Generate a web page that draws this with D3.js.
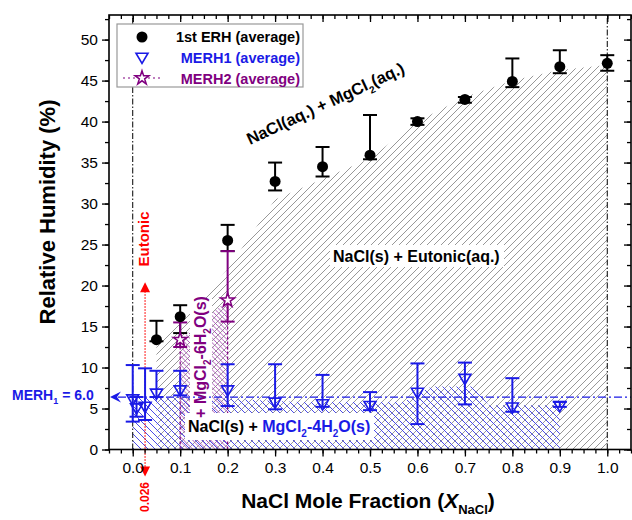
<!DOCTYPE html>
<html>
<head>
<meta charset="utf-8">
<script src="https://cdn.jsdelivr.net/npm/d3@7"></script>
<style>
  body { margin: 0; background: #fff; }
  svg { display: block; font-family: "Liberation Sans", Arial, sans-serif; }
</style>
</head>
<body>
<svg id="chart" width="632" height="520"></svg>
<script>
// 1st ERH (average), black circles
const erhX  = [0.05, 0.1, 0.2, 0.3, 0.4, 0.5, 0.6, 0.7, 0.8, 0.9, 1.0];
const erh   = [13.4, 16.2, 25.5, 32.7, 34.5, 35.9, 40.0, 42.7, 44.9, 46.7, 47.1];
const erhHi = [15.7, 17.6, 27.4, 35.0, 36.9, 40.8, 40.4, 43.0, 47.7, 48.7, 48.1];
const erhLo = [13.2, 14.2, 24.2, 31.6, 33.3, 35.4, 39.6, 42.3, 44.2, 45.9, 46.2];

// MERH1 (average), blue triangles
const merh1X  = [0, 0.008, 0.026, 0.05, 0.1, 0.2, 0.3, 0.4, 0.5, 0.6, 0.7, 0.8, 0.9];
const merh1   = [6.2, 5.1, 5.3, 6.9, 7.3, 7.3, 5.8, 5.6, 5.4, 7.0, 8.7, 5.2, 5.4];
const merh1Hi = [10.3, 6.4, 9.9, 9.6, 9.6, 10.4, 10.4, 9.1, 7.0, 10.5, 10.6, 8.7, 5.8];
const merh1Lo = [3.4, 4.0, 3.6, 6.4, 6.6, 5.3, 4.9, 5.2, 4.8, 3.1, 5.5, 4.6, 5.2];

// MERH2 (average), purple stars
const merh2X  = [0.1, 0.2];
const merh2   = [13.4, 18.2];
const merh2Hi = [15.5, 24.2];
const merh2Lo = [12.5, 15.6];

// shaded phase regions (upper edges)
const grayX   = [0.05, 0.1, 0.2, 0.3, 0.4, 0.5, 0.6, 0.7, 0.8, 0.9, 1.0];
const grayTop = [12.5, 15.5, 22.0, 30.5, 33.0, 35.5, 40.0, 43.0, 45.0, 46.3, 46.9];
const blueX   = [0, 0.2, 0.35, 0.57, 0.63, 0.72, 0.75, 0.9];
const blueTop = [6.4, 6.2, 5.8, 5.8, 7.7, 7.7, 5.4, 5.4];

const merh1Line = 6.4;     // drawn level of "MERH1 = 6.0"
const eutonicX = 0.026;
const eutonicTop = 20.4;

const xMajor = d3.range(0, 11).map(d => d / 10);
const xMinor = d3.range(-2, 43).map(d => d * 0.025);
const yMajor = d3.range(0, 51, 5);
const yMinor = d3.range(0, 53, 2.5);

const svg = d3.select("#chart");
const x = d3.scaleLinear().domain([-0.05, 1.05]).range([109, 631]);
const y = d3.scaleLinear().domain([0, 53]).range([449.5, 15]);

const blue = "#1a1ae6", purple = "#800080", red = "#ff0000";

// hatch patterns
const defs = svg.append("defs");
function hatch(id, color, s, up, w) {
  let d = up
    ? `M0,${s} L${s},0 M${-s/2},${s/2} L${s/2},${-s/2} M${s/2},${s*1.5} L${s*1.5},${s/2}`
    : `M0,0 L${s},${s} M${-s/2},${s/2} L${s/2},${s*1.5} M${s/2},${-s/2} L${s*1.5},${s/2}`;
  defs.append("pattern")
    .attr("id", id)
    .attr("patternUnits", "userSpaceOnUse")
    .attr("width", s).attr("height", s)
    .append("path")
    .attr("d", d)
    .attr("stroke", color)
    .attr("stroke-width", w);
}
hatch("grayHatch", "#8c8c8c", 7, true, 0.9);
hatch("blueHatch", "#4b4be6", 7, false, 1);
hatch("purpleHatch", "#a64ab4", 4.5, false, 0.9);

function area(xs, tops) {
  return d3.area()
    .x(d => x(d[0]))
    .y0(y(0))
    .y1(d => y(d[1]))(d3.zip(xs, tops));
}

svg.append("path").attr("d", area(grayX, grayTop)).attr("fill", "url(#grayHatch)");
svg.append("path").attr("d", area(merh2X, merh2)).attr("fill", "url(#purpleHatch)");
svg.append("path").attr("d", area(blueX, blueTop)).attr("fill", "url(#blueHatch)");

// purple dotted edges of the MgCl2-6H2O region
merh2X.forEach((v, i) => {
  svg.append("line")
    .attr("x1", x(v)).attr("x2", x(v))
    .attr("y1", y(0)).attr("y2", y(merh2[i]))
    .attr("stroke", purple).attr("stroke-width", 1.2)
    .attr("stroke-dasharray", "3,2");
});

// white boxes behind labels
svg.append("rect").attr("x", 190).attr("y", 298).attr("width", 22).attr("height", 117).attr("fill", "#fff");
svg.append("rect").attr("x", 185).attr("y", 413).attr("width", 189).attr("height", 27).attr("fill", "#fff");
svg.append("rect").attr("x", 330).attr("y", 245).attr("width", 174).attr("height", 22).attr("fill", "#fff");

// black dash-dot limits at x=0 and x=1
[0, 1].forEach(v => {
  svg.append("line")
    .attr("x1", x(v)).attr("x2", x(v))
    .attr("y1", y(0)).attr("y2", y(53))
    .attr("stroke", "#000").attr("stroke-width", 1)
    .attr("stroke-dasharray", "6,2,1.5,2");
});

// MERH1 mean line with arrow
svg.append("line")
  .attr("x1", 118).attr("x2", 631)
  .attr("y1", y(merh1Line)).attr("y2", y(merh1Line))
  .attr("stroke", blue).attr("stroke-width", 1.2)
  .attr("stroke-dasharray", "8,3,2,3");
svg.append("path")
  .attr("d", `M110,${y(merh1Line)} L121,${y(merh1Line) - 5.5} L117,${y(merh1Line)} L121,${y(merh1Line) + 5.5} Z`)
  .attr("fill", blue);

// eutonic composition arrow
const ex = x(eutonicX);
svg.append("line")
  .attr("x1", ex).attr("x2", ex)
  .attr("y1", y(eutonicTop) + 9).attr("y2", y(0) + 18)
  .attr("stroke", red).attr("stroke-width", 1.2)
  .attr("stroke-dasharray", "1.5,1.5");
svg.append("path")
  .attr("d", `M${ex},${y(eutonicTop)} L${ex - 5},${y(eutonicTop) + 10} L${ex + 5},${y(eutonicTop) + 10} Z`)
  .attr("fill", red);
svg.append("path")
  .attr("d", `M${ex},${y(0) + 27} L${ex - 5},${y(0) + 17} L${ex + 5},${y(0) + 17} Z`)
  .attr("fill", red);

// error bars
function errorBars(xs, lo, hi, color) {
  const g = svg.append("g").attr("stroke", color).attr("stroke-width", 2);
  xs.forEach((v, i) => {
    const cx = x(v);
    g.append("line").attr("x1", cx).attr("x2", cx).attr("y1", y(lo[i])).attr("y2", y(hi[i]));
    g.append("line").attr("x1", cx - 7).attr("x2", cx + 7).attr("y1", y(lo[i])).attr("y2", y(lo[i]));
    g.append("line").attr("x1", cx - 7).attr("x2", cx + 7).attr("y1", y(hi[i])).attr("y2", y(hi[i]));
  });
}
errorBars(erhX, erhLo, erhHi, "#000");
errorBars(merh2X, merh2Lo, merh2Hi, purple);
errorBars(merh1X, merh1Lo, merh1Hi, blue);

// markers
const triDown = "M-6,-3.8 L6,-3.8 L0,6.5 Z";
const star = d3.symbol(d3.symbolStar, 60)();

svg.append("g").selectAll("circle")
  .data(d3.zip(erhX, erh)).join("circle")
  .attr("cx", d => x(d[0])).attr("cy", d => y(d[1])).attr("r", 5.5)
  .attr("fill", "#000");

svg.append("g").selectAll("path")
  .data(d3.zip(merh1X, merh1)).join("path")
  .attr("d", triDown)
  .attr("transform", d => `translate(${x(d[0])},${y(d[1])})`)
  .attr("fill", "none").attr("stroke", blue).attr("stroke-width", 1.6);

svg.append("g").selectAll("path")
  .data(d3.zip(merh2X, merh2)).join("path")
  .attr("d", star)
  .attr("transform", d => `translate(${x(d[0])},${y(d[1])})`)
  .attr("fill", "#fff").attr("stroke", purple).attr("stroke-width", 1.5);

// region labels
const lab = svg.append("g").attr("font-weight", "bold");

let t = lab.append("text")
  .attr("transform", "translate(250,145) rotate(-25)")
  .attr("font-size", 16.5).attr("fill", "#000");
t.append("tspan").text("NaCl(aq.) + MgCl");
t.append("tspan").text("2").attr("font-size", 10).attr("dy", 5);
t.append("tspan").text("(aq.)").attr("dy", -5);

lab.append("text")
  .attr("x", 333).attr("y", 262)
  .attr("font-size", 16).attr("fill", "#000")
  .text("NaCl(s) + Eutonic(aq.)");

t = lab.append("text")
  .attr("x", 188).attr("y", 432)
  .attr("font-size", 16).attr("fill", "#000");
t.append("tspan").text("NaCl(s) + ");
t.append("tspan").text("MgCl").attr("fill", blue);
t.append("tspan").text("2").attr("fill", blue).attr("font-size", 10).attr("dy", 5);
t.append("tspan").text("-4H").attr("fill", blue).attr("dy", -5);
t.append("tspan").text("2").attr("fill", blue).attr("font-size", 10).attr("dy", 5);
t.append("tspan").text("O(s)").attr("fill", blue).attr("dy", -5);

t = lab.append("text")
  .attr("transform", "translate(206,357) rotate(-90)")
  .attr("text-anchor", "middle")
  .attr("font-size", 16).attr("fill", purple);
t.append("tspan").text("+ MgCl");
t.append("tspan").text("2").attr("font-size", 10).attr("dy", 5);
t.append("tspan").text("-6H").attr("dy", -5);
t.append("tspan").text("2").attr("font-size", 10).attr("dy", 5);
t.append("tspan").text("O(s)").attr("dy", -5);

lab.append("text")
  .attr("transform", "translate(149,239) rotate(-90)")
  .attr("text-anchor", "middle")
  .attr("font-size", 15).attr("fill", red)
  .text("Eutonic");

lab.append("text")
  .attr("transform", `translate(${ex + 4},497) rotate(-90)`)
  .attr("text-anchor", "middle")
  .attr("font-size", 12).attr("fill", red)
  .text(eutonicX.toFixed(3));

t = lab.append("text")
  .attr("x", 12).attr("y", 400)
  .attr("font-size", 14).attr("fill", blue);
t.append("tspan").text("MERH");
t.append("tspan").text("1").attr("font-size", 9).attr("dy", 4);
t.append("tspan").text(" = 6.0").attr("dy", -4);

// axes
function styleAxis(g) {
  g.select(".domain").remove();
  g.selectAll("line").attr("stroke", "#000").attr("stroke-width", 1.3);
  g.selectAll("text")
    .attr("font-family", "'Liberation Sans', Arial, sans-serif")
    .attr("font-size", 15.5).attr("fill", "#000");
}

svg.append("g").attr("transform", `translate(109,0)`)
  .call(d3.axisLeft(y).tickValues(yMinor).tickSize(4).tickFormat(""))
  .call(styleAxis);
svg.append("g").attr("transform", `translate(109,0)`)
  .call(d3.axisLeft(y).tickValues(yMajor).tickSize(7).tickPadding(4).tickFormat(d3.format("d")))
  .call(styleAxis);
svg.append("g").attr("transform", `translate(631,0)`)
  .call(d3.axisRight(y).tickValues(yMinor).tickSize(-4).tickFormat(""))
  .call(styleAxis);
svg.append("g").attr("transform", `translate(631,0)`)
  .call(d3.axisRight(y).tickValues(yMajor).tickSize(-7).tickFormat(""))
  .call(styleAxis);

svg.append("g").attr("transform", `translate(0,${y(0)})`)
  .call(d3.axisBottom(x).tickValues(xMinor).tickSize(4).tickFormat(""))
  .call(styleAxis);
svg.append("g").attr("transform", `translate(0,${y(0)})`)
  .call(d3.axisBottom(x).tickValues(xMajor).tickSize(7).tickPadding(5).tickFormat(d3.format(".1f")))
  .call(styleAxis);
svg.append("g").attr("transform", `translate(0,${y(53)})`)
  .call(d3.axisTop(x).tickValues(xMinor).tickSize(-4).tickFormat(""))
  .call(styleAxis);
svg.append("g").attr("transform", `translate(0,${y(53)})`)
  .call(d3.axisTop(x).tickValues(xMajor).tickSize(-7).tickFormat(""))
  .call(styleAxis);

// frame
svg.append("rect")
  .attr("x", 109).attr("y", y(53))
  .attr("width", 631 - 109).attr("height", y(0) - y(53))
  .attr("fill", "none").attr("stroke", "#000").attr("stroke-width", 1.6);

// axis titles
svg.append("text")
  .attr("transform", "translate(55,212) rotate(-90)")
  .attr("text-anchor", "middle")
  .attr("font-size", 22).attr("font-weight", "bold")
  .text("Relative Humidity (%)");

t = svg.append("text")
  .attr("x", 368).attr("y", 508)
  .attr("text-anchor", "middle")
  .attr("font-size", 21).attr("font-weight", "bold");
t.append("tspan").text("NaCl Mole Fraction (");
t.append("tspan").text("X").attr("font-style", "italic");
t.append("tspan").text("NaCl").attr("font-size", 13).attr("dy", 6);
t.append("tspan").text(")").attr("dy", -6);

// legend
const leg = svg.append("g");
leg.append("rect")
  .attr("x", 117).attr("y", 24).attr("width", 186).attr("height", 63)
  .attr("fill", "#fff").attr("stroke", "#999").attr("stroke-width", 1.2);
leg.append("circle").attr("cx", 142).attr("cy", 37).attr("r", 5.5).attr("fill", "#000");
leg.append("path").attr("d", triDown).attr("transform", "translate(142,57)")
  .attr("fill", "none").attr("stroke", blue).attr("stroke-width", 1.6);
leg.append("line").attr("x1", 123).attr("x2", 160).attr("y1", 78).attr("y2", 78)
  .attr("stroke", purple).attr("stroke-width", 1.2).attr("stroke-dasharray", "2,3");
leg.append("path").attr("d", star).attr("transform", "translate(142,78)")
  .attr("fill", "#fff").attr("stroke", purple).attr("stroke-width", 1.5);

const legText = [["1st ERH (average)", "#000", 37], ["MERH1 (average)", blue, 58], ["MERH2 (average)", purple, 79]];
legText.forEach(d => {
  leg.append("text")
    .attr("x", 300).attr("y", d[2])
    .attr("text-anchor", "end").attr("dominant-baseline", "central")
    .attr("font-size", 14.5).attr("font-weight", "bold")
    .attr("fill", d[1]).text(d[0]);
});
</script>
</body>
</html>
